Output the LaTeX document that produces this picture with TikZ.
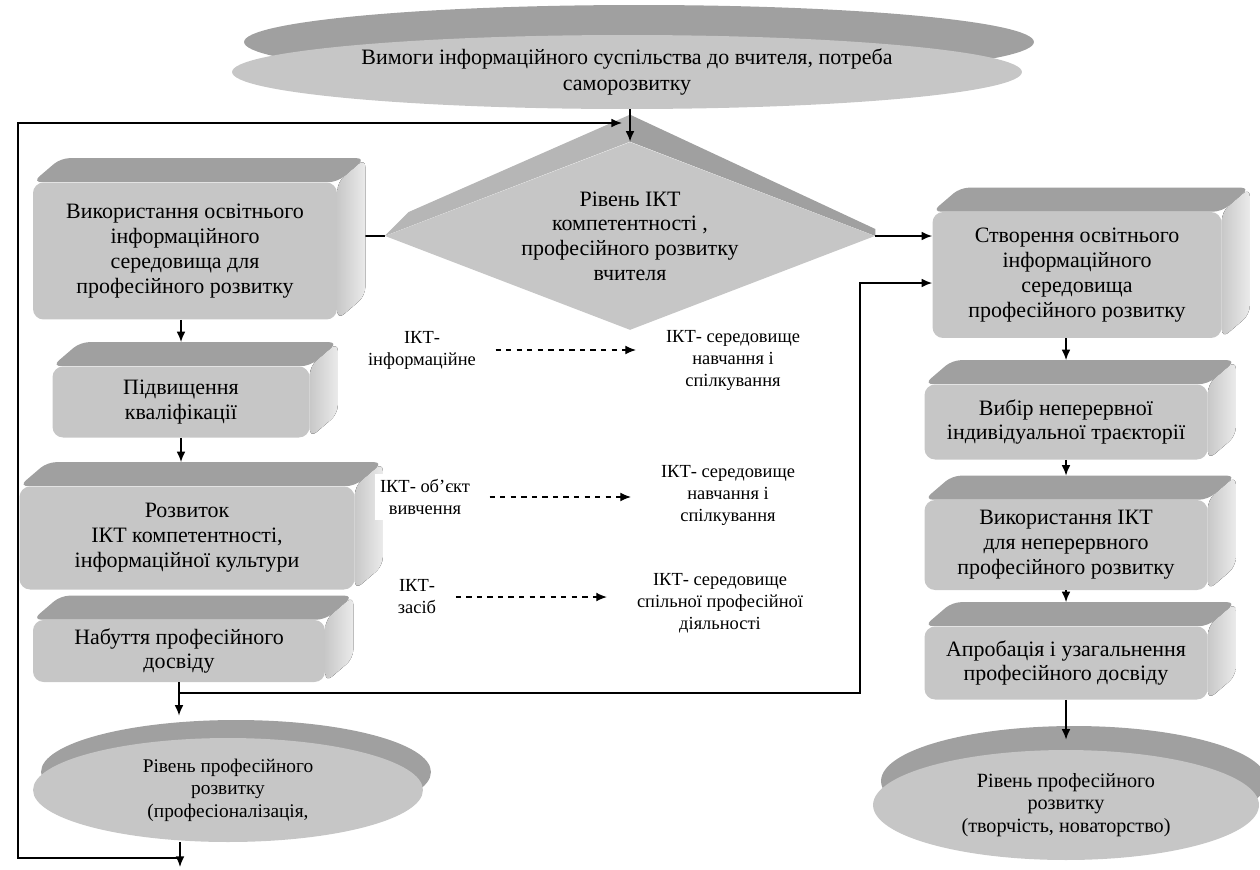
\documentclass[tikz,border=0pt]{standalone}
\usepackage{fontspec}
\setmainfont{Liberation Serif}
\usetikzlibrary{shapes.geometric,arrows.meta,backgrounds}
\definecolor{frontc}{RGB}{198,198,198}
\definecolor{topc}{RGB}{160,160,160}
\definecolor{bevelc}{RGB}{182,182,182}
\definecolor{sidec}{RGB}{200,200,200}

\begin{document}
\begin{tikzpicture}[x=0.02cm,y=-0.02cm,
	box3d/.style={rounded corners=6pt, fill=frontc, align=center, inner sep=2pt, font=\fontsize{12.5}{14.2}\selectfont},
	topface/.style={fill=topc, rounded corners=5pt},
	sideface/.style={left color=sidec, right color=white!92!black, rounded corners=5pt},
	disc/.style={ellipse, fill=frontc, align=center, inner sep=0pt},
	lbl/.style={align=center, fill=white, inner sep=3pt, font=\fontsize{10.5}{12.5}\selectfont},
	arr/.style={-{Latex[length=6pt,width=5pt]}, line width=0.9pt},
	dasharr/.style={arr, dashed, line width=0.6pt, shorten <=8pt, shorten >=14pt}]
	\useasboundingbox (0,0) rectangle (1260,869);

%% discs and the diamond
	\node[disc, minimum width=15.8cm, minimum height=1.48cm, font=\fontsize{12.5}{14.5}\selectfont] (top) at (627,72) {Вимоги інформаційного суспільства до вчителя, потреба\\саморозвитку};
	\node[diamond, aspect=2.4, minimum width=9.8cm, minimum height=3.76cm, inner sep=0pt, fill=frontc, align=center, font=\fontsize{12.5}{14}\selectfont] (dia) at (630,236) {Рівень ІКТ\\компетентності ,\\професійного розвитку\\вчителя};
	\node[disc, minimum width=7.8cm, minimum height=2.08cm, font=\fontsize{11}{12.8}\selectfont] (lvl1) at (228,790) {Рівень професійного\\розвитку\\(професіоналізація,};
	\node[disc, minimum width=7.72cm, minimum height=2.2cm, font=\fontsize{11.5}{13}\selectfont] (lvl2) at (1066,805) {Рівень професійного\\розвитку\\(творчість, новаторство)};

%% left column
	\node[box3d, minimum width=6.08cm, minimum height=2.74cm] (b1) at (185,251) {Використання освітнього\\інформаційного\\середовища для\\професійного розвитку};
	\node[box3d, minimum width=5.14cm, minimum height=1.42cm] (b2) at (181,402) {Підвищення\\кваліфікації};
	\node[box3d, minimum width=6.7cm, minimum height=2.06cm] (b3) at (187,538) {Розвиток\\ІКТ компетентності,\\інформаційної культури};
	\node[box3d, minimum width=5.84cm, minimum height=1.24cm] (b4) at (179,651) {Набуття професійного\\досвіду};

%% right column
	\node[box3d, minimum width=5.78cm, minimum height=2.52cm] (r1) at (1077,275) {Створення освітнього\\інформаційного\\середовища\\професійного розвитку};
	\node[box3d, minimum width=5.66cm, minimum height=1.5cm] (r2) at (1066,422) {Вибір неперервної\\індивідуальної траєкторії};
	\node[box3d, minimum width=5.66cm, minimum height=1.8cm] (r3) at (1066,545) {Використання ІКТ\\для неперервного\\професійного розвитку};
	\node[box3d, minimum width=5.66cm, minimum height=1.46cm] (r4) at (1066,663) {Апробація і узагальнення\\професійного досвіду};

%% middle labels
	\node[lbl] (l1) at (422,350) {ІКТ-\\інформаційне};
	\node[lbl] (m1) at (733,360) {ІКТ- середовище\\навчання і\\спілкування};
	\node[lbl] (l2) at (425,497) {ІКТ- об’єкт\\вивчення};
	\node[lbl] (m2) at (728,495) {ІКТ- середовище\\навчання і\\спілкування};
	\node[lbl] (l3) at (417,597) {ІКТ-\\засіб};
	\node[lbl] (m3) at (720,603) {ІКТ- середовище\\спільної професійної\\діяльності};

	\begin{scope}[on background layer]
	\draw[line width=0.9pt] (b1.east |- dia.west) -- (dia.west);
	\fill[topface] ([shift={(12,-30)}]top.center) ellipse [x radius=7.9cm, y radius=0.74cm];
	\fill[topface] ([shift={(8,-18)}]lvl1.center) ellipse [x radius=3.9cm, y radius=1.04cm];
	\fill[topface] ([shift={(8,-24)}]lvl2.center) ellipse [x radius=3.86cm, y radius=1.1cm];
	\fill[bevelc] (dia.west) -- ([shift={(24,-24)}]dia.west) -- ([yshift=0.54cm]dia.north) -- (dia.north) -- cycle;
	\fill[topc] (dia.north) -- ([yshift=0.54cm]dia.north) -- ([yshift=0.14cm]dia.east) -- (dia.east) -- cycle;
	\foreach \b in {b1,b2,b3,b4,r1,r2,r3,r4}{
		\fill[sideface] (\b.north east) -- ++(28,-24) -- ([shift={(28,-24)}]\b.south east) -- (\b.south east) -- cycle;
		\fill[topface] (\b.north west) -- ++(28,-24) -- ([shift={(28,-24)}]\b.north east) -- (\b.north east) -- cycle;
	}
	\end{scope}

%% connectors
	\coordinate (fbin) at (622,123);
	\coordinate (loop) at (180,858);
	\coordinate (exit) at (180,867);
	\coordinate (junc) at (180,693);
	\coordinate (bend) at (860,283);
	\draw[arr] (top.south -| dia.north) -- (dia.north);
	\draw[arr] (loop) -- ++(-162,0) |- (fbin);
	\draw[arr] (lvl1.south -| exit) -- (exit);
	\draw[arr] (dia.east) -- (dia.east -| r1.west);
	\draw[arr] (b1.south -| b2.north) -- ([yshift=0.48cm]b2.north);
	\draw[arr] (b2.south) -- ([yshift=0.48cm]b3.north -| b2.south);
	\draw[arr] (b4.south) -- ([yshift=0.44cm]lvl1.north -| b4.south);
	\draw[arr] (junc) -| (bend) -- (bend -| r1.west);
	\draw[arr] (r1.south -| r2.north) -- ([yshift=0.48cm]r2.north);
	\draw[arr] (r2.south) -- ([yshift=0.48cm]r3.north);
	\draw[arr] (r3.south) -- ([yshift=0.48cm]r4.north);
	\draw[arr] (r4.south) -- ([yshift=0.2cm]lvl2.north);
	\draw[dasharr] (l1.east) -- (l1.east -| m1.west);
	\draw[dasharr] (l2.east) -- (l2.east -| m2.west);
	\draw[dasharr] (l3.east) -- (l3.east -| m3.west);
\end{tikzpicture}
\end{document}
